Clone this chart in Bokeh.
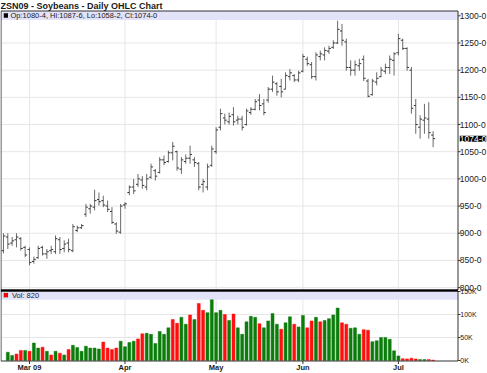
import pandas as pd
from bokeh.plotting import figure
from bokeh.models import Range1d, BoxAnnotation, Label, ColumnDataSource
from bokeh.core.properties import value
from bokeh.embed import file_html
from bokeh.resources import INLINE

# ---------------- data ----------------
title_text = "ZSN09 - Soybeans - Daily OHLC Chart"
legend_text = "Op:1080-4, Hi:1087-6, Lo:1058-2, Cl:1074-0"
vol_text = "Vol: 820"

holidays = ["2009-04-10", "2009-05-25", "2009-07-03"]
dates = [d for d in pd.bdate_range("2009-02-20", "2009-07-14")
         if d.strftime("%Y-%m-%d") not in holidays]

highs = [900, 900, 893, 900, 893, 877, 874, 857, 877, 877,
         871, 877, 896, 893, 887, 890, 917, 914, 917, 954,
         954, 980, 975, 969, 960, 948, 920, 954, 957, 988,
         1000, 1009, 1005, 1009, 1028, 1018, 1040, 1043, 1052, 1068,
         1052, 1040, 1045, 1061, 1040, 1031, 1000, 1028, 1061, 1095,
         1129, 1120, 1122, 1132, 1116, 1116, 1129, 1132, 1147, 1156,
         1147, 1169, 1190, 1178, 1184, 1196, 1202, 1193, 1199, 1230,
         1225, 1215, 1233, 1236, 1242, 1245, 1255, 1291, 1285, 1258,
         1218, 1218, 1221, 1227, 1184, 1184, 1196, 1206, 1212, 1227,
         1233, 1267, 1258, 1242, 1206, 1147, 1117, 1138, 1141, 1087.75]
lows = [863, 871, 877, 874, 868, 856, 841, 844, 853, 859,
        853, 862, 862, 862, 865, 865, 865, 902, 908, 930,
        936, 942, 951, 948, 939, 917, 899, 899, 945, 970,
        972, 985, 982, 979, 1000, 997, 1010, 1025, 1030, 1034,
        1015, 1009, 1028, 1028, 1022, 979, 975, 979, 1022, 1046,
        1089, 1100, 1100, 1098, 1100, 1089, 1098, 1118, 1126, 1126,
        1117, 1140, 1160, 1153, 1150, 1165, 1181, 1178, 1178, 1196,
        1208, 1184, 1181, 1218, 1218, 1230, 1239, 1248, 1245, 1199,
        1190, 1190, 1199, 1180, 1150, 1153, 1172, 1187, 1193, 1193,
        1190, 1227, 1237, 1199, 1120, 1083, 1074, 1083, 1074, 1058.25]
opens = [868, 893, 882, 888, 890, 874, 870, 848, 855, 874,
         862, 868, 866, 888, 872, 882, 868, 905, 910, 935,
         945, 948, 962, 960, 950, 940, 917, 902, 952, 975,
         985, 990, 998, 985, 1003, 1015, 1012, 1035, 1032, 1048,
         1050, 1018, 1032, 1038, 1035, 1028, 990, 985, 1025, 1050,
         1095, 1112, 1105, 1118, 1108, 1110, 1100, 1122, 1128, 1145,
         1138, 1145, 1165, 1175, 1170, 1165, 1188, 1190, 1182, 1198,
         1220, 1210, 1188, 1225, 1228, 1235, 1242, 1250, 1272, 1252,
         1205, 1200, 1208, 1220, 1180, 1155, 1178, 1188, 1198, 1205,
         1218, 1232, 1255, 1240, 1200, 1135, 1095, 1108, 1110, 1080.5]
closes = [895, 880, 886, 893, 872, 860, 846, 852, 872, 862,
          866, 870, 890, 870, 880, 870, 912, 910, 914, 948,
          950, 960, 958, 952, 944, 920, 904, 950, 954, 985,
          978, 1000, 988, 1000, 1022, 1005, 1035, 1030, 1048, 1060,
          1020, 1035, 1038, 1045, 1030, 985, 995, 1022, 1055, 1090,
          1120, 1108, 1115, 1105, 1110, 1095, 1125, 1128, 1142, 1135,
          1122, 1165, 1178, 1160, 1160, 1190, 1195, 1182, 1195, 1225,
          1212, 1188, 1228, 1230, 1236, 1240, 1250, 1275, 1255, 1205,
          1200, 1210, 1212, 1185, 1152, 1180, 1185, 1200, 1205, 1220,
          1230, 1258, 1240, 1205, 1130, 1100, 1110, 1112, 1085, 1074]

# volume in thousands of contracts (first bar not visible in the picture)
volumes_k = [float("nan"), 18, 11, 14, 22, 22, 20, 38, 27, 29,
             20, 12, 20, 16, 12, 24, 33, 28, 20, 31,
             27, 27, 25, 40, 27, 24, 27, 42, 30, 39,
             42, 47, 58, 59, 57, 37, 63, 57, 71, 89,
             81, 94, 79, 99, 89, 124, 109, 104, 132, 104,
             109, 100, 87, 101, 71, 57, 84, 96, 94, 80,
             71, 86, 102, 79, 68, 82, 95, 79, 73, 98,
             71, 86, 94, 84, 87, 91, 99, 114, 82, 79,
             70, 71, 57, 67, 66, 41, 43, 50, 50, 46,
             21, 10, 4, 3.5, 5, 3.5, 2, 2, 2, 0.82]
vol_up = ("g g g r r g r g g r "
          "g r g r g r g g g g "
          "g g g r r r r g g g "
          "g r r g g g g g g r "
          "r g g r g r r g g g "
          "g r g r g g g g g r "
          "g g g g r g g r g g "
          "r r g r g g g g r r "
          "g g g r r g g g g g "
          "g g r r r r g g r r").split()

price_ticks = [800, 850, 900, 950, 1000, 1050, 1100, 1150, 1200, 1250, 1300]
vol_ticks_k = [0, 50, 100, 150]
month_labels = ["Mar 09", "Apr", "May", "Jun", "Jul"]

# ---------------- layout calibration (pixels of the 487x373 page) ----------------
W, H = 487, 373
FONT = "Liberation Sans"
BAR0_PX, BAR_PX = 2.96, 4.34            # x pixel of bar 0, pixels per bar
PREF, PREF_PY, PX_PER_CENT = 1300, 15.3, 0.5436
VOL0_PY, VOL_PX_PER_K = 360, 70 / 152.2
LEFT, RIGHT = 0.5, 457.5                # panel edges
P_TOP, P_BOT, P_BAND = 10.5, 289.5, 19.5
V_TOP, V_BOT, V_BAND = 290.5, 360.5, 299.3
GRID = "#e6e6e6"
BAND = "#e2e2f8"
FRAME = "#333333"
TXT = "#1a1a1a"

def kx(px):
    return (px - BAR0_PX) / BAR_PX

def pp(py):
    return PREF - (py - PREF_PY) / PX_PER_CENT

def vv(py):
    return (VOL0_PY - py) / VOL_PX_PER_K

n = len(closes)
idx = list(range(n))
month_ticks = [i for i in range(1, n) if dates[i].month != dates[i - 1].month]

p = figure(width=W, height=H, x_range=Range1d(kx(0), kx(W)), y_range=Range1d(pp(H), pp(0)),
           output_backend="svg", toolbar_location=None,
           x_axis_location=None, y_axis_location=None, min_border=0,
           background_fill_color="white", border_fill_color="white")
p.extra_y_ranges = {"vol": Range1d(vv(H), vv(0))}
p.outline_line_color = None
p.xgrid.visible = False
p.ygrid.visible = False

# ---------- price panel ----------
p.add_layout(BoxAnnotation(left=kx(LEFT), right=kx(RIGHT), top=pp(P_TOP), bottom=pp(P_BAND),
                           fill_color=BAND, fill_alpha=1, line_color=None, level="underlay"))
grid_p = [t for t in price_ticks if pp(P_BAND) > t > pp(P_BOT)]
p.segment(x0=[kx(LEFT)] * len(grid_p), x1=[kx(RIGHT)] * len(grid_p),
          y0=grid_p, y1=grid_p, line_color=GRID, line_width=1)
p.segment(x0=month_ticks, x1=month_ticks, y0=[pp(P_BOT)] * len(month_ticks),
          y1=[pp(P_BAND)] * len(month_ticks), line_color=GRID, line_width=1)

src = ColumnDataSource(dict(x=idx, xl=[i - 0.45 for i in idx], xr=[i + 0.45 for i in idx],
                            o=opens, h=highs, l=lows, c=closes))
p.segment(x0="x", y0="l", x1="x", y1="h", source=src, line_color="#6a6a6a", line_width=1)
p.segment(x0="xl", y0="o", x1="x", y1="o", source=src, line_color="#333333", line_width=1)
p.segment(x0="x", y0="c", x1="xr", y1="c", source=src, line_color="#333333", line_width=1)

p.quad(left=[kx(LEFT)], right=[kx(RIGHT)], top=[pp(P_TOP)], bottom=[pp(P_BOT)],
       fill_color=None, line_color=FRAME, line_width=1)

# price axis (right)
p.segment(x0=[kx(RIGHT)] * len(price_ticks), x1=[kx(RIGHT + 2.5)] * len(price_ticks),
          y0=price_ticks, y1=price_ticks, line_color=FRAME, line_width=1)
p.text(x=[kx(459.3)] * len(price_ticks), y=price_ticks, text=[f"{t}-0" for t in price_ticks],
       text_font=value(FONT), text_font_size=value("8.5px"), text_color=TXT,
       text_align="left", text_baseline="middle")
last_close = closes[-1]
p.add_layout(Label(x=kx(459.3), y=last_close, text=f"{int(last_close)}-0",
                   text_font=FONT, text_font_size="8.5px", text_color="white",
                   background_fill_color="black", background_fill_alpha=1,
                   text_baseline="middle", text_align="left"))

# title and legend
p.text(x=[kx(0)], y=[pp(5.0)], text=[title_text], text_font=value(FONT),
       text_font_size=value("9px"), text_font_style="bold", text_color=TXT,
       text_align="left", text_baseline="middle")
p.add_layout(BoxAnnotation(left=kx(3.3), right=kx(7.5), top=pp(12.8), bottom=pp(17.2),
                           fill_color="black", fill_alpha=1, line_color=None))
p.text(x=[kx(10)], y=[pp(15.3)], text=[legend_text], text_font=value(FONT),
       text_font_size=value("7.5px"), text_color=TXT,
       text_align="left", text_baseline="middle")

# ---------- volume panel ----------
p.add_layout(BoxAnnotation(left=kx(LEFT), right=kx(RIGHT), top=vv(V_TOP), bottom=vv(V_BAND),
                           fill_color=BAND, fill_alpha=1, line_color=None, y_range_name="vol",
                           level="underlay"))
grid_v = [t for t in vol_ticks_k if vv(V_BAND) > t > 0]
p.segment(x0=[kx(LEFT)] * len(grid_v), x1=[kx(RIGHT)] * len(grid_v), y0=grid_v, y1=grid_v,
          line_color=GRID, line_width=1, y_range_name="vol")
p.segment(x0=month_ticks, x1=month_ticks, y0=[vv(V_BOT)] * len(month_ticks),
          y1=[vv(V_BAND)] * len(month_ticks), line_color=GRID, line_width=1, y_range_name="vol")

vcol = ["#0a7d0a" if f == "g" else "#ff0f0f" for f in vol_up]
vsrc = ColumnDataSource(dict(x=idx, v=volumes_k, c=vcol))
p.vbar(x="x", top="v", bottom=0, width=0.68, source=vsrc, fill_color="c",
       line_color="c", line_width=0.5, y_range_name="vol")

p.quad(left=[kx(LEFT)], right=[kx(RIGHT)], top=[vv(V_TOP)], bottom=[vv(V_BOT)],
       fill_color=None, line_color=FRAME, line_width=1, y_range_name="vol")
# dark separator between the two panels
p.segment(x0=[kx(0)], x1=[kx(RIGHT)], y0=[pp(290)], y1=[pp(290)],
          line_color="black", line_width=2)

# volume axis (right)
p.segment(x0=[kx(RIGHT)] * len(vol_ticks_k), x1=[kx(RIGHT + 2.5)] * len(vol_ticks_k),
          y0=vol_ticks_k, y1=vol_ticks_k, line_color=FRAME, line_width=1, y_range_name="vol")
p.text(x=[kx(459.8)] * len(vol_ticks_k), y=vol_ticks_k, text=[f"{t}K" for t in vol_ticks_k],
       text_font=value(FONT), text_font_size=value("7px"), text_color=TXT,
       text_align="left", text_baseline="middle", y_range_name="vol")

# time axis (below)
p.segment(x0=month_ticks, x1=month_ticks, y0=[vv(V_BOT)] * len(month_ticks),
          y1=[vv(V_BOT + 3)] * len(month_ticks), line_color=FRAME, line_width=1,
          y_range_name="vol")
p.text(x=month_ticks, y=[vv(366.8)] * len(month_ticks), text=month_labels,
       text_font=value(FONT), text_font_size=value("7.5px"), text_font_style="bold",
       text_color=TXT, text_align="center", text_baseline="middle", y_range_name="vol")

# volume legend
p.add_layout(BoxAnnotation(left=kx(3.3), right=kx(7.5), top=vv(292.6), bottom=vv(296.8),
                           fill_color="#ff0000", fill_alpha=1, line_color="#333333",
                           line_width=0.5, y_range_name="vol"))
p.text(x=[kx(11.5)], y=[vv(294.8)], text=[vol_text], text_font=value(FONT),
       text_font_size=value("7.5px"), text_color=TXT, text_align="left",
       text_baseline="middle", y_range_name="vol")

open("out.html", "w").write(file_html(p, INLINE, title="ZSN09 Soybeans"))
